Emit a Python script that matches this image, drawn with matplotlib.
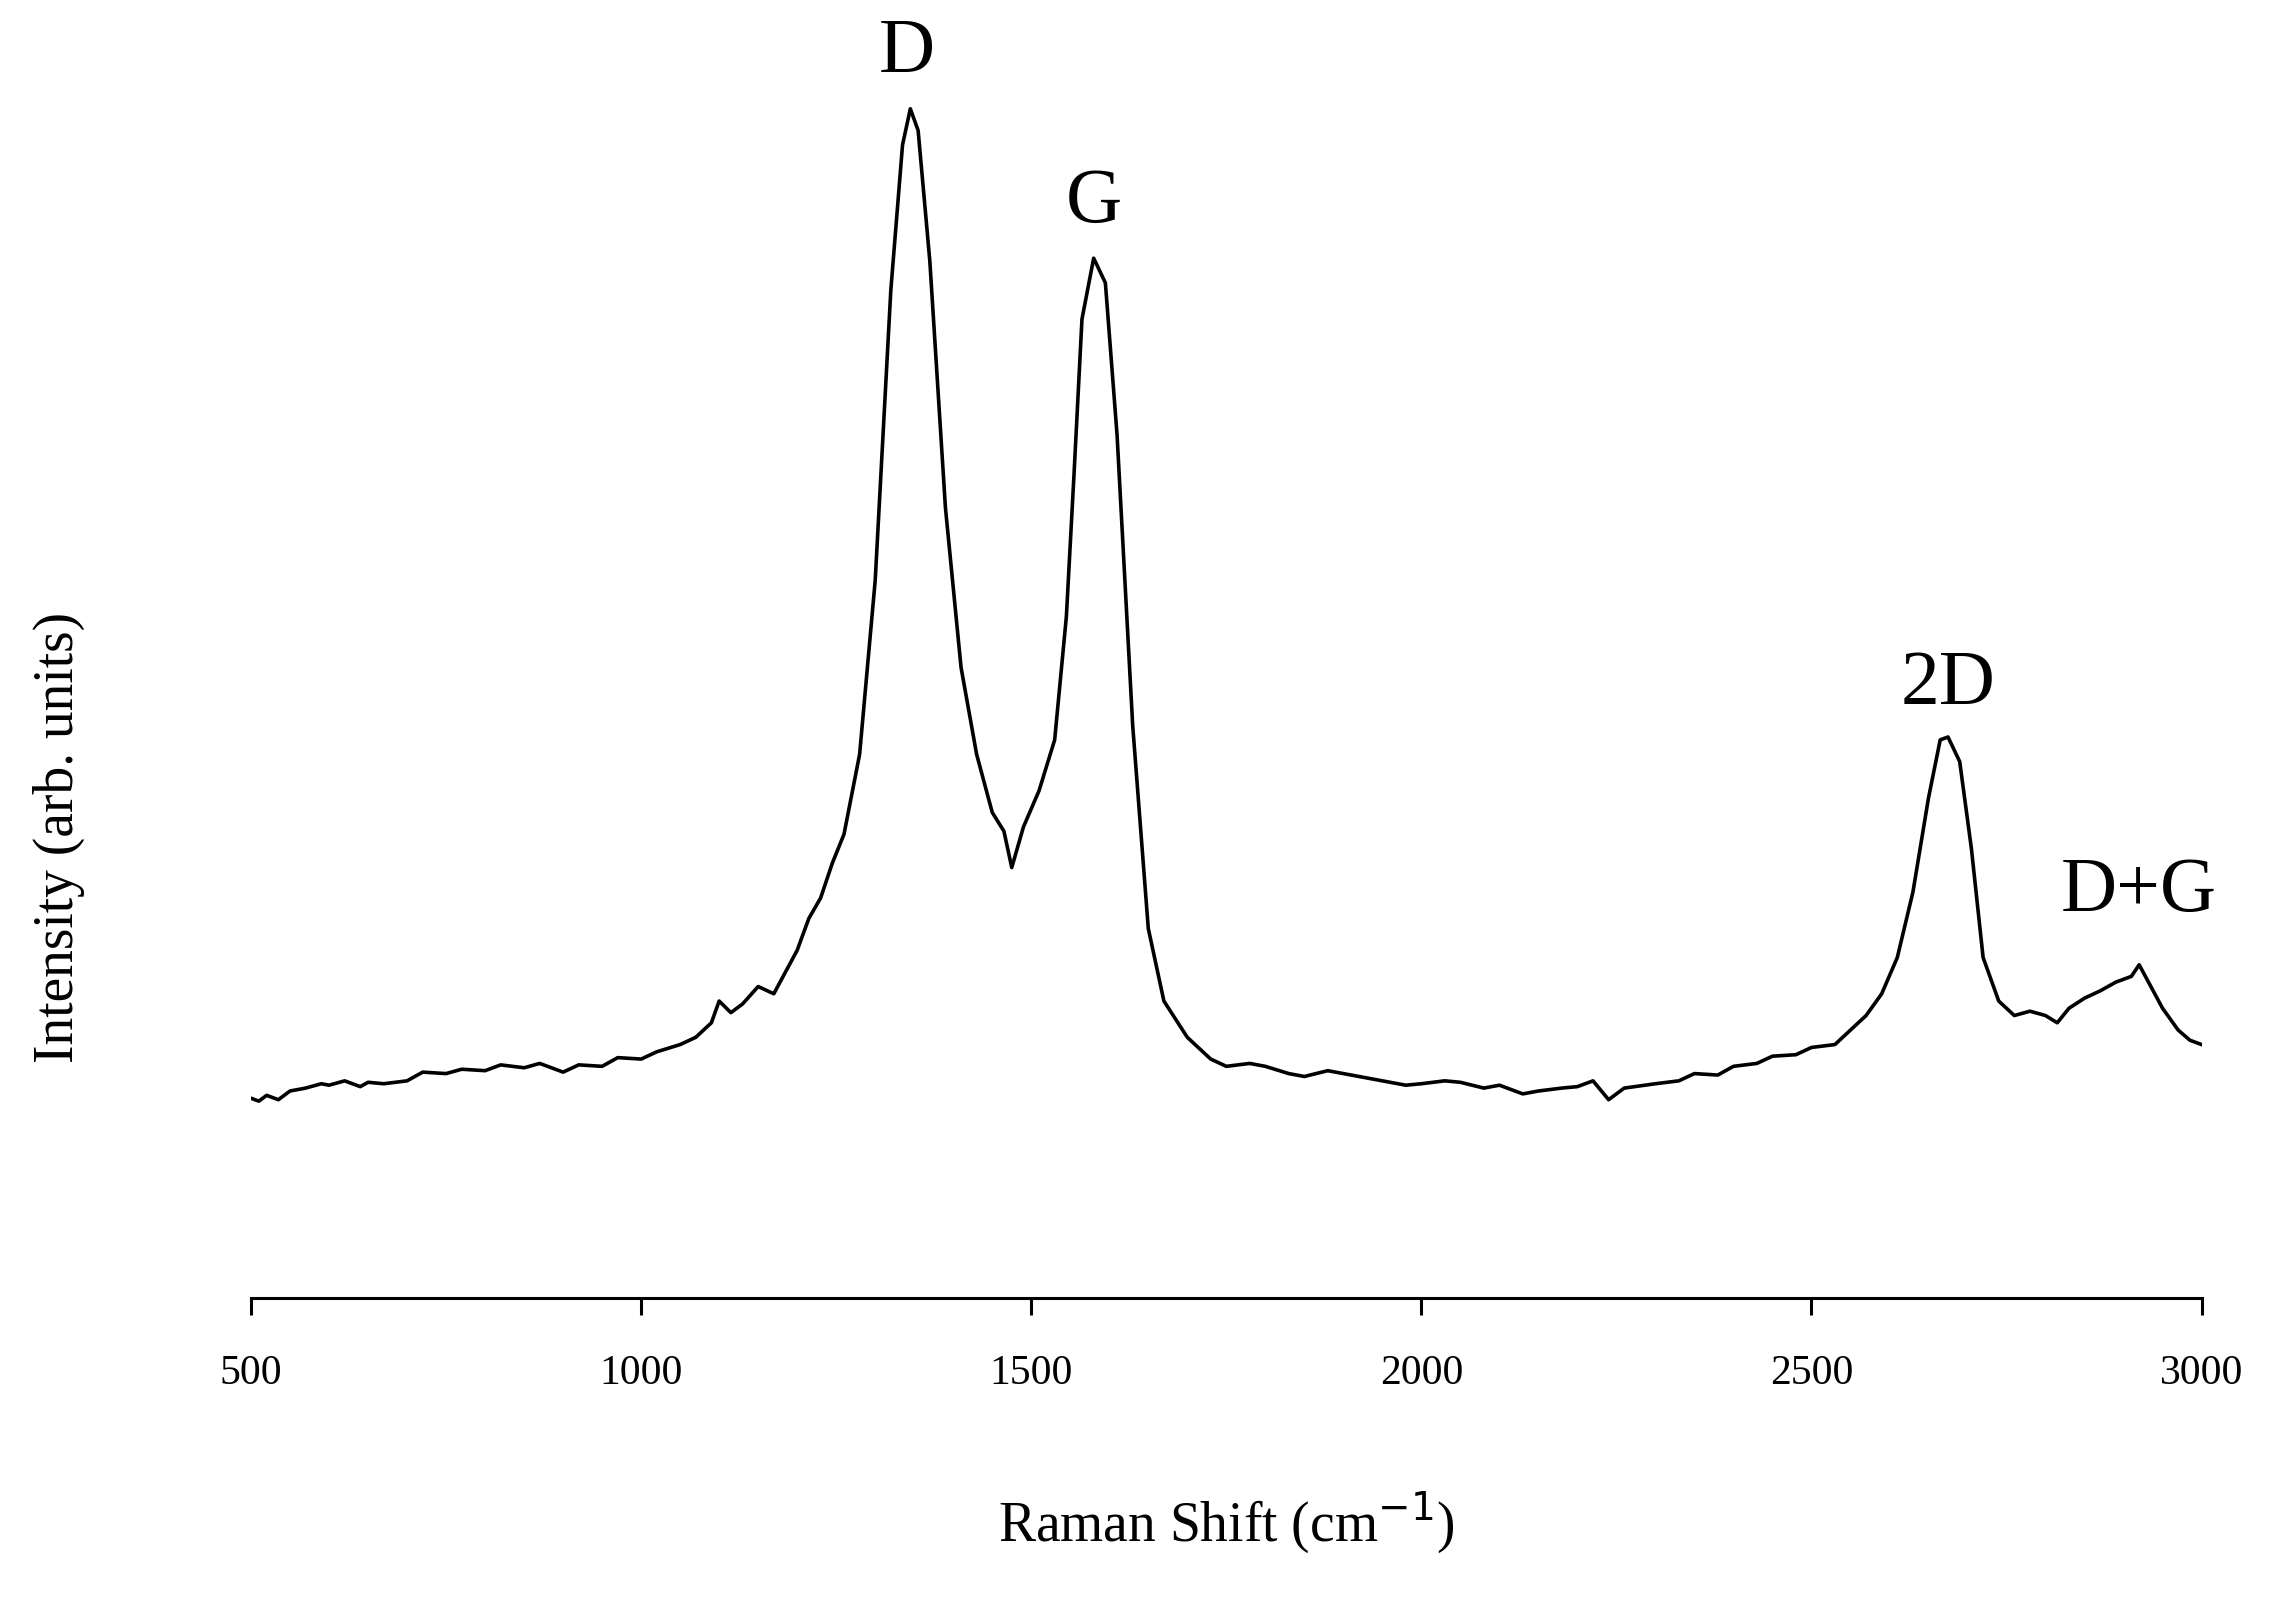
import matplotlib
matplotlib.use("Agg")
import matplotlib.pyplot as plt

# Raman spectrum (shift in cm^-1, intensity in arbitrary units)
shift = [500, 510, 520, 535, 550, 570, 590, 600, 620, 640, 650, 670, 700, 720, 750, 770, 800, 820,
         850, 870, 900, 920, 950, 970, 1000, 1020, 1050, 1070, 1090, 1100, 1115, 1130, 1150, 1170,
         1180, 1200, 1215, 1230, 1245, 1260, 1280, 1300, 1320, 1335, 1345, 1355, 1370, 1390, 1410,
         1430, 1450, 1465, 1475, 1490, 1510, 1530, 1545, 1555, 1565, 1580, 1595, 1610, 1630, 1650,
         1670, 1700, 1730, 1750, 1780, 1800, 1830, 1850, 1880, 1900, 1930, 1950, 1980, 2000, 2030,
         2050, 2080, 2100, 2130, 2150, 2180, 2200, 2220, 2240, 2260, 2300, 2330, 2350, 2380, 2400,
         2430, 2450, 2480, 2500, 2530, 2550, 2570, 2590, 2610, 2630, 2650, 2665, 2675, 2690, 2705,
         2720, 2740, 2760, 2780, 2800, 2815, 2830, 2850, 2870, 2890, 2910, 2920, 2935, 2950, 2970,
         2985, 3000]
intensity = [138, 136, 140, 137, 143, 145, 148, 147, 150, 146, 149, 148, 150, 156, 155, 158, 157, 161,
             159, 162, 156, 161, 160, 166, 165, 170, 175, 180, 190, 205, 197, 203, 215, 210, 220, 240,
             262, 276, 300, 320, 375, 495, 695, 795, 820, 805, 715, 545, 435, 375, 335, 322, 297, 325,
             350, 385, 470, 570, 675, 717, 700, 595, 395, 255, 205, 180, 165, 160, 162, 160, 155, 153,
             157, 155, 152, 150, 147, 148, 150, 149, 145, 147, 141, 143, 145, 146, 150, 137, 145, 148,
             150, 155, 154, 160, 162, 167, 168, 173, 175, 185, 195, 210, 235, 280, 345, 385, 387, 370,
             310, 235, 205, 195, 198, 195, 190, 200, 207, 212, 218, 222, 230, 215, 200, 185, 178, 175]
peak_labels = ["D", "G", "2D", "D+G"]
peak_pos = [1340, 1580, 2675, 2920]
peak_height = [858, 755, 423, 280]

plt.rcParams["font.family"] = ["Liberation Serif", "DejaVu Serif"]

fig = plt.figure(figsize=(22.76, 16.11), dpi=100)
ax = fig.add_axes([0.1103, 0.194, 0.857, 0.752])
ax.plot(shift, intensity, color="black", lw=2.6)
for lab, xp, yp in zip(peak_labels, peak_pos, peak_height):
    ax.text(xp, yp, lab, ha="center", va="center", fontsize=56)

ax.set_xlim(500, 3000)
ax.set_ylim(0, 835)
ax.margins(x=0)
for s in ["top", "right", "left"]:
    ax.spines[s].set_visible(False)
ax.spines["bottom"].set_linewidth(2.2)
ax.spines["bottom"].set_bounds(500, 3000)
ax.set_xticks([500, 1000, 1500, 2000, 2500, 3000])
ax.set_yticks([])
ax.tick_params(axis="x", direction="out", length=12, width=2.2, labelsize=30, pad=28)
ax.set_xlabel("Raman Shift (cm$^{-1}$)", fontsize=40, labelpad=70)
fig.text(0.026, 0.48, "Intensity (arb. units)", rotation=90, ha="center", va="center", fontsize=40)

fig.savefig("out.png", dpi=100)
